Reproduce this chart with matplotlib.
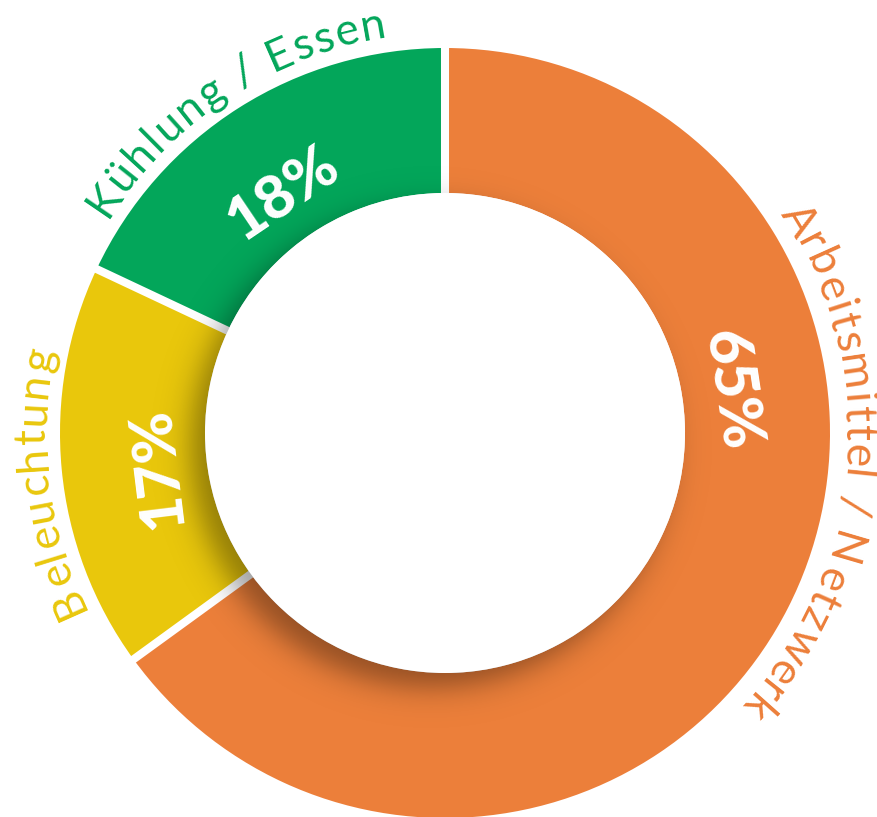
import numpy as np
import matplotlib
matplotlib.use("Agg")
import matplotlib.pyplot as plt
from matplotlib.patches import Wedge, Circle
from matplotlib.font_manager import FontProperties

# Daten
kategorien = ["Arbeitsmittel / Netzwerk", "Beleuchtung", "Kühlung / Essen"]
anteile = [65, 17, 18]
prozent_text = ["65%", "17%", "18%"]
farben = ["#EC7F3A", "#E9C70C", "#03A65A"]

# Layout (Pixel)
W, H = 878, 817
cx, cy = 445, 384
R_aus, R_in = 385, 240
label_winkel = [-5, 187, 123]      # Mitte der Bogenbeschriftung
prozent_winkel = [8.5, 187, 124]   # Lage der Prozentzahlen
schrift = "Lato"

fig = plt.figure(figsize=(W / 100, H / 100), dpi=100)
ax = fig.add_axes([0, 0, 1, 1])

# Ringsegmente im Uhrzeigersinn ab 12 Uhr
start = 90.0
grenzen = [start]
for wert, farbe in zip(anteile, farben):
    ende = start - wert * 3.6
    ax.add_patch(Wedge((cx, cy), R_aus, ende, start, width=R_aus - R_in,
                       facecolor=farbe, edgecolor="none", zorder=1))
    grenzen.append(ende)
    start = ende

# weisse Trennfugen
for g in grenzen[:-1]:
    t = np.radians(g)
    ax.plot([cx + (R_in - 5) * np.cos(t), cx + (R_aus + 5) * np.cos(t)],
            [cy + (R_in - 5) * np.sin(t), cy + (R_aus + 5) * np.sin(t)],
            color="white", lw=5.8, solid_capstyle="butt", zorder=2)

# Schatten der inneren Scheibe (nach links unten versetzt)
yy, xx = np.mgrid[0:H, 0:W] + 0.5
d = np.hypot(xx - (cx - 14), yy - (cy - 14)) - R_in
alpha = 0.38 / (1 + np.exp(d / 9.0))
schatten = np.zeros((H, W, 4))
schatten[..., 3] = alpha
ax.imshow(schatten, extent=(0, W, 0, H), origin="lower", zorder=3,
          interpolation="bilinear")

ax.add_patch(Circle((cx, cy), R_in, facecolor="white", edgecolor="none", zorder=4))

ax.set_xlim(0, W)
ax.set_ylim(0, H)
ax.set_aspect("equal")
ax.axis("off")

renderer = fig.canvas.get_renderer()


def breite(s, fp):
    if not s:
        return 0.0
    w, h, dsc = renderer.get_text_width_height_descent(s, fp, ismath=False)
    return w


def bogen_text(text, mitte_deg, radius, fp, farbe, sperrung=2.0):
    # Text im Uhrzeigersinn, Oberkante nach aussen
    gesamt = breite(text, fp) + sperrung * (len(text) - 1)
    for i, ch in enumerate(text):
        pos = (breite(text[:i], fp) + breite(text[:i + 1], fp)) / 2 + sperrung * i
        s = pos - gesamt / 2
        th = mitte_deg - np.degrees(s / radius)
        t = np.radians(th)
        ax.text(cx + radius * np.cos(t), cy + radius * np.sin(t), ch,
                fontproperties=fp, color=farbe, rotation=th - 90,
                rotation_mode="anchor", ha="center", va="baseline", zorder=5)


fp_label = FontProperties(family=schrift, size=32)
for name, farbe, w in zip(kategorien, farben, label_winkel):
    bogen_text(name, w, 400, fp_label, farbe)

fp_proz = FontProperties(family=schrift, size=44, weight="black")
for txt, w in zip(prozent_text, prozent_winkel):
    t = np.radians(w)
    ax.text(cx + 290 * np.cos(t), cy + 290 * np.sin(t), txt,
            fontproperties=fp_proz, color="white", rotation=w - 90,
            rotation_mode="anchor", ha="center", va="center", zorder=5)

fig.savefig("out.png", dpi=100, facecolor="white")
